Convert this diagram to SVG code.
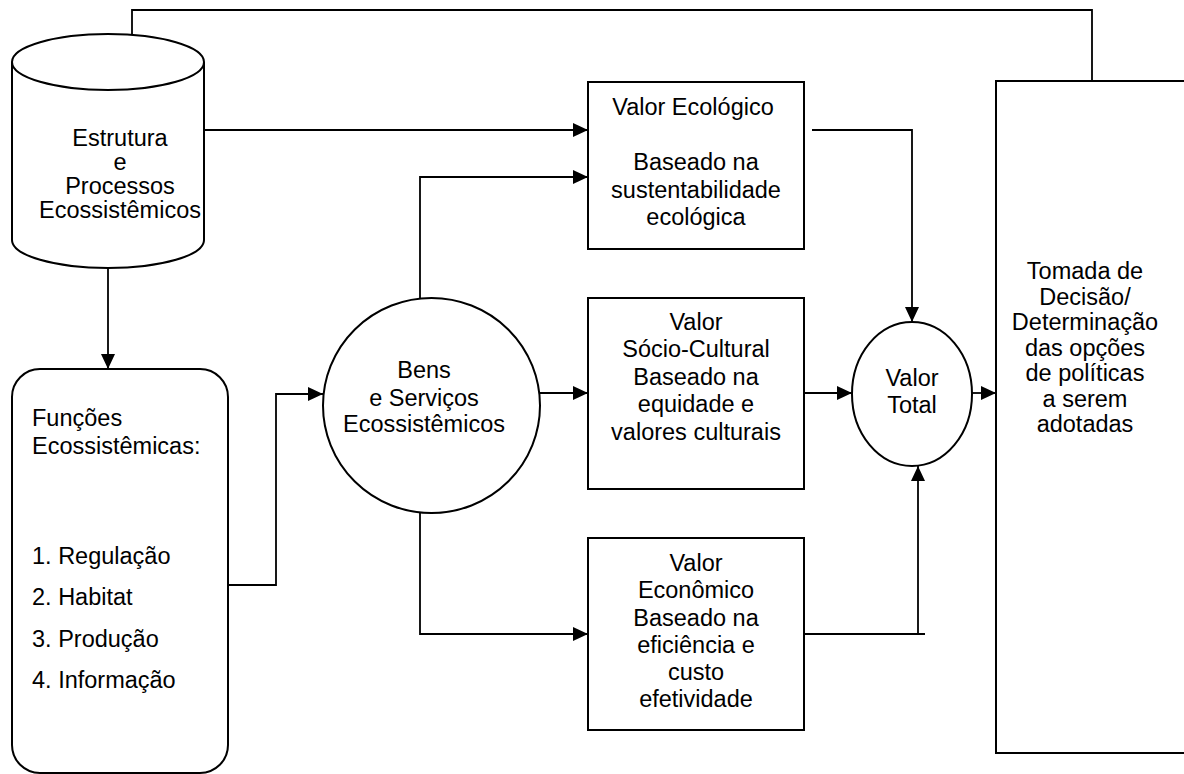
<svg xmlns="http://www.w3.org/2000/svg" width="1184" height="774" viewBox="0 0 1184 774">
<style>
.s{fill:#fff;stroke:#000;stroke-width:2}
.c{fill:none;stroke:#000;stroke-width:1.8}
text{font-family:"Liberation Sans",Arial,sans-serif;font-size:23.5px;fill:#000}
.m{text-anchor:middle}
</style>
<defs>
<marker id="ah" markerUnits="userSpaceOnUse" markerWidth="15" markerHeight="14" refX="15" refY="7" orient="auto">
<path d="M0,0 L15,7 L0,14 Z" fill="#000"/>
</marker>
</defs>
<rect width="1184" height="774" fill="#fff"/>
<g id="connectors">
<polyline class="c" points="1092,81 1092,10 132,10 132,57" marker-end="url(#ah)"/>
<line class="c" x1="204" y1="130" x2="588" y2="130" marker-end="url(#ah)"/>
<line class="c" x1="108" y1="268" x2="108" y2="369" marker-end="url(#ah)"/>
<polyline class="c" points="228,585 276,585 276,394 323,394" marker-end="url(#ah)"/>
<polyline class="c" points="420,298 420,177 588,177" marker-end="url(#ah)"/>
<line class="c" x1="540" y1="393" x2="588" y2="393" marker-end="url(#ah)"/>
<polyline class="c" points="420,513 420,634 588,634" marker-end="url(#ah)"/>
<polyline class="c" points="812,130 912,130 912,322" marker-end="url(#ah)"/>
<line class="c" x1="804" y1="393" x2="852" y2="393" marker-end="url(#ah)"/>
<line class="c" x1="804" y1="634" x2="925" y2="634"/>
<line class="c" x1="918" y1="634" x2="918" y2="466" marker-end="url(#ah)"/>
<line class="c" x1="972" y1="393" x2="996" y2="393" marker-end="url(#ah)"/>
</g>
<g id="estrutura">
<path class="s" d="M12,62 L12,240 A96,28 0 0 0 204,240 L204,62 A96,28 0 0 0 12,62 Z"/>
<path class="s" d="M12,62 A96,28 0 0 0 204,62"/>
<text class="m" x="120" y="146">Estrutura</text>
<text class="m" x="120" y="170">e</text>
<text class="m" x="120" y="194">Processos</text>
<text class="m" x="120" y="218">Ecossistêmicos</text>
</g>
<g id="funcoes">
<rect class="s" x="12" y="369" width="216" height="404" rx="28" ry="28"/>
<text x="32" y="426">Funções</text>
<text x="32" y="454">Ecossistêmicas:</text>
<text x="32" y="564">1. Regulação</text>
<text x="32" y="605">2. Habitat</text>
<text x="32" y="647">3. Produção</text>
<text x="32" y="688">4. Informação</text>
</g>
<g id="bens">
<ellipse class="s" cx="431.5" cy="405.5" rx="108.5" ry="107.5"/>
<text class="m" x="424" y="378">Bens</text>
<text class="m" x="424" y="406">e Serviços</text>
<text class="m" x="424" y="432">Ecossistêmicos</text>
</g>
<g id="ecologico">
<rect class="s" x="588" y="82" width="216" height="167"/>
<text class="m" x="693" y="115">Valor Ecológico</text>
<text class="m" x="696" y="170">Baseado na</text>
<text class="m" x="696" y="198">sustentabilidade</text>
<text class="m" x="696" y="225">ecológica</text>
</g>
<g id="sociocultural">
<rect class="s" x="588" y="298" width="216" height="191"/>
<text class="m" x="696" y="330">Valor</text>
<text class="m" x="696" y="357">Sócio-Cultural</text>
<text class="m" x="696" y="385">Baseado na</text>
<text class="m" x="696" y="412">equidade e</text>
<text class="m" x="696" y="440">valores culturais</text>
</g>
<g id="economico">
<rect class="s" x="588" y="538" width="216" height="192"/>
<text class="m" x="696" y="571">Valor</text>
<text class="m" x="696" y="598">Econômico</text>
<text class="m" x="696" y="626">Baseado na</text>
<text class="m" x="696" y="653">eficiência e</text>
<text class="m" x="696" y="680">custo</text>
<text class="m" x="696" y="707">efetividade</text>
</g>
<g id="valortotal">
<ellipse class="s" cx="912" cy="394" rx="60" ry="72"/>
<text class="m" x="912" y="386">Valor</text>
<text class="m" x="912" y="413">Total</text>
</g>
<g id="decisao">
<rect class="s" x="996" y="81" width="200" height="672"/>
<text class="m" x="1085" y="279">Tomada de</text>
<text class="m" x="1085" y="305">Decisão/</text>
<text class="m" x="1085" y="330">Determinação</text>
<text class="m" x="1085" y="356">das opções</text>
<text class="m" x="1085" y="381">de políticas</text>
<text class="m" x="1085" y="407">a serem</text>
<text class="m" x="1085" y="432">adotadas</text>
</g>
</svg>
